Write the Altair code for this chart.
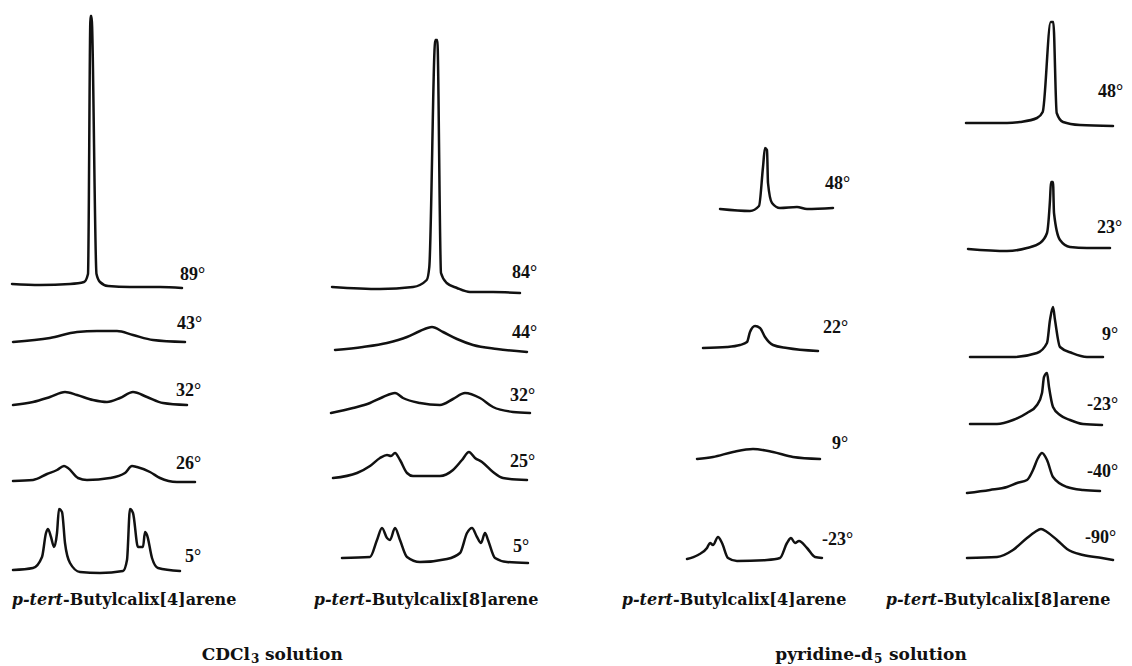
import altair as alt
import pandas as pd

# ---------------- spectra ----------------
# x: position along the trace (px from the column's left edge)
# h: signal height above the trace's baseline (px)
c1_89_x = [0, 28, 58, 72, 76, 78.5, 79.5, 84.5, 88, 96, 118, 148, 170]
c1_89_h = [1, 0, 1, 3, 11, 269, 269, 11, 3, -1, -2, -2, -3]
c1_43_x = [1, 38, 65, 85, 105, 121, 141, 173]
c1_43_h = [0, 4, 10, 11, 11, 7, 2, 0]
c1_32_x = [1, 21, 38, 53, 65, 81, 95, 108, 121, 135, 151, 175]
c1_32_h = [0, 3, 8, 13, 10, 5, 3, 7, 13, 8, 2, 0]
c1_26_x = [1, 21, 35, 45, 52, 56, 66, 75, 98, 113, 120, 125, 138, 148, 165, 183]
c1_26_h = [0, 1, 7, 11, 15, 13, 3, 1, 3, 8, 15, 14, 9, 3, -1, -1]
c1_5_x = [1, 21, 30, 34, 36, 39, 42, 45, 47, 50, 53, 58, 68, 88, 111, 115, 118, 121, 126, 131, 133, 135, 140, 146, 168]
c1_5_h = [0, 2, 13, 37, 41, 33, 23, 37, 61, 58, 27, 7, -2, -3, -1, 10, 61, 57, 23, 23, 38, 35, 12, 2, -1]

c2_84_x = [2, 50, 83, 96.7, 99.3, 105.3, 107.3, 111, 116.7, 127, 140, 163, 190]
c2_84_h = [1, -1, 1, 8, 21, 248, 248, 15, 5, 0, -4, -4, -5]
c2_44_x = [5, 33, 57, 77, 90, 102, 113, 127, 143, 167, 197]
c2_44_h = [0, 3, 7, 13, 19, 23, 18, 11, 5, 1, -2]
c2_32_x = [1, 23, 40, 53, 65, 73, 90, 110, 123, 135, 150, 163, 183, 200]
c2_32_h = [0, 5, 10, 16, 20, 15, 10, 8, 14, 20, 15, 6, 1, 0]
c2_25_x = [3, 27, 40, 50, 57, 61, 65, 70, 77, 83, 110, 123, 132, 139, 145, 152, 163, 173, 197]
c2_25_h = [0, 5, 12, 20, 23, 22, 25, 18, 5, 2, 2, 8, 18, 26, 20, 16, 6, 0, -2]
c2_5_x = [12, 40, 47, 52, 57, 60, 65, 70, 77, 90, 117, 130, 137, 142, 147, 151, 155, 158, 165, 177, 198]
c2_5_h = [2, 3, 20, 32, 22, 20, 32, 20, 3, -2, 1, 7, 27, 32, 23, 17, 27, 20, 2, -2, -3]

c3_48_x = [34, 64, 73, 77, 79, 81, 82, 86, 94, 111, 121, 147]
c3_48_h = [0, -2, 3, 42, 61, 59, 26, 6, 1, 2, 0, 1]
c3_22_x = [17, 41, 54, 61, 64, 69, 74, 79, 87, 101, 132]
c3_22_h = [0, 1, 3, 6, 16, 22, 20, 11, 3, 0, -3]
c3_9_x = [11, 27, 47, 67, 87, 107, 134]
c3_9_h = [0, 2, 7, 10, 7, 2, 0]
c3_m23_x = [1, 12, 21, 24, 27, 32, 36, 42, 51, 81, 94, 101, 105, 109, 113, 121, 129, 136]
c3_m23_h = [1, 5, 12, 17, 15, 23, 17, 2, -1, 0, 2, 17, 22, 17, 19, 12, 3, 2]

c4_48_x = [0, 41, 54, 71, 76.7, 84.7, 87.3, 90.7, 97, 114, 147]
c4_48_h = [1, 1, 2, 6, 12, 102, 102, 11, 2, -1, -2]
c4_23_x = [2, 41, 61, 74, 81, 84, 85, 87, 88, 94, 104, 121, 144]
c4_23_h = [1, -1, 2, 7, 17, 50, 68, 68, 37, 10, 3, 2, 2]
c4_9_x = [4, 47, 71, 81, 84, 87, 89, 94, 106, 121, 137]
c4_9_h = [0, 0, 4, 14, 37, 50, 37, 10, 4, 0, 0]
c4_m23_x = [4, 31, 47, 61, 71, 76, 78, 81, 83, 87, 94, 104, 117, 136]
c4_m23_h = [0, 0, 4, 11, 19, 31, 47, 51, 37, 17, 9, 4, 0, -1]
c4_m40_x = [1, 24, 41, 51, 61, 67, 72, 76, 81, 87, 101, 117, 134]
c4_m40_h = [-1, 2, 5, 9, 12, 22, 34, 39, 32, 15, 5, 2, 1]
c4_m90_x = [1, 31, 47, 61, 69, 75, 81, 91, 101, 117, 136, 147]
c4_m90_h = [0, 1, 8, 20, 26, 29, 26, 18, 9, 3, 0, -2]

# trace key, column, temperature label, x, h
SPECTRA = [
    ("c1_89", 0, "89°", c1_89_x, c1_89_h),
    ("c1_43", 0, "43°", c1_43_x, c1_43_h),
    ("c1_32", 0, "32°", c1_32_x, c1_32_h),
    ("c1_26", 0, "26°", c1_26_x, c1_26_h),
    ("c1_5", 0, "5°", c1_5_x, c1_5_h),
    ("c2_84", 1, "84°", c2_84_x, c2_84_h),
    ("c2_44", 1, "44°", c2_44_x, c2_44_h),
    ("c2_32", 1, "32°", c2_32_x, c2_32_h),
    ("c2_25", 1, "25°", c2_25_x, c2_25_h),
    ("c2_5", 1, "5°", c2_5_x, c2_5_h),
    ("c3_48", 2, "48°", c3_48_x, c3_48_h),
    ("c3_22", 2, "22°", c3_22_x, c3_22_h),
    ("c3_9", 2, "9°", c3_9_x, c3_9_h),
    ("c3_m23", 2, "-23°", c3_m23_x, c3_m23_h),
    ("c4_48", 3, "48°", c4_48_x, c4_48_h),
    ("c4_23", 3, "23°", c4_23_x, c4_23_h),
    ("c4_9", 3, "9°", c4_9_x, c4_9_h),
    ("c4_m23", 3, "-23°", c4_m23_x, c4_m23_h),
    ("c4_m40", 3, "-40°", c4_m40_x, c4_m40_h),
    ("c4_m90", 3, "-90°", c4_m90_x, c4_m90_h),
]

COMPOUNDS = ["-Butylcalix[4]arene", "-Butylcalix[8]arene", "-Butylcalix[4]arene", "-Butylcalix[8]arene"]
PREFIX = "p-tert"

# ---------------- layout (page pixels) ----------------
COLUMN_X0 = [12, 330, 686, 966]
BASELINE = {
    "c1_89": 285, "c1_43": 342, "c1_32": 405, "c1_26": 481, "c1_5": 570,
    "c2_84": 288, "c2_44": 350, "c2_32": 413, "c2_25": 478, "c2_5": 560,
    "c3_48": 209, "c3_22": 348, "c3_9": 459, "c3_m23": 560,
    "c4_48": 124, "c4_23": 250, "c4_9": 357, "c4_m23": 424, "c4_m40": 492, "c4_m90": 558,
}
LABEL_POS = {
    "c1_89": (180, 275), "c1_43": (177, 324), "c1_32": (176, 391), "c1_26": (176, 464), "c1_5": (185, 557),
    "c2_84": (512, 273), "c2_44": (512, 333), "c2_32": (510, 396), "c2_25": (510, 462), "c2_5": (513, 547),
    "c3_48": (825, 184), "c3_22": (823, 328), "c3_9": (832, 444), "c3_m23": (822, 540),
    "c4_48": (1098, 92), "c4_23": (1097, 228), "c4_9": (1102, 335), "c4_m23": (1087, 405),
    "c4_m40": (1087, 472), "c4_m90": (1085, 538),
}
COMPOUND_SPLIT_X = [63, 365, 673, 937]
COMPOUND_Y = 600

W, H = 1132, 666

rows = []
for key, col, temp, xs, hs in SPECTRA:
    for i, (x, h) in enumerate(zip(xs, hs)):
        rows.append({"trace": key, "i": i, "px": COLUMN_X0[col] + x, "py": BASELINE[key] - h})
df = pd.DataFrame(rows)

lab = pd.DataFrame([
    {"px": LABEL_POS[k][0], "py": LABEL_POS[k][1], "text": t} for k, c, t, _, _ in SPECTRA
])
pre = pd.DataFrame([{"px": COMPOUND_SPLIT_X[c], "py": COMPOUND_Y, "text": PREFIX} for c in range(4)])
rest = pd.DataFrame([{"px": COMPOUND_SPLIT_X[c], "py": COMPOUND_Y, "text": COMPOUNDS[c]} for c in range(4)])

title_main = pd.DataFrame([
    {"px": 250, "py": 655, "text": "CDCl", "align": "right"},
    {"px": 265, "py": 655, "text": "solution", "align": "left"},
    {"px": 873, "py": 655, "text": "pyridine-d", "align": "right"},
    {"px": 889, "py": 655, "text": "solution", "align": "left"},
])
title_sub = pd.DataFrame([
    {"px": 251, "py": 659, "text": "3"},
    {"px": 874, "py": 659, "text": "5"},
])

xs = alt.Scale(domain=[0, W])
ys = alt.Scale(domain=[0, H], reverse=True)
X = alt.X("px:Q", scale=xs, axis=None)
Y = alt.Y("py:Q", scale=ys, axis=None)

lines = alt.Chart(df).mark_line(color="#111111", strokeWidth=2.5, interpolate="monotone",
                                strokeCap="round", strokeJoin="round").encode(
    x=X, y=Y, detail="trace:N", order="i:Q")

temps = alt.Chart(lab).mark_text(font="Liberation Serif", fontWeight="bold", fontSize=18,
                                 align="left", baseline="middle", color="#111111").encode(
    x=X, y=Y, text="text:N")

pre_t = alt.Chart(pre).mark_text(font="DejaVu Serif", fontWeight="bold", fontStyle="italic",
                                 fontSize=16, align="right", baseline="middle", color="#111111").encode(
    x=X, y=Y, text="text:N")
rest_t = alt.Chart(rest).mark_text(font="DejaVu Serif", fontWeight="bold", fontSize=16,
                                   align="left", baseline="middle", color="#111111").encode(
    x=X, y=Y, text="text:N")

tm_r = alt.Chart(title_main[title_main["align"] == "right"]).mark_text(
    font="DejaVu Serif", fontWeight="bold", fontSize=17, align="right", baseline="middle",
    color="#111111").encode(x=X, y=Y, text="text:N")
tm_l = alt.Chart(title_main[title_main["align"] == "left"]).mark_text(
    font="DejaVu Serif", fontWeight="bold", fontSize=17, align="left", baseline="middle",
    color="#111111").encode(x=X, y=Y, text="text:N")
ts = alt.Chart(title_sub).mark_text(
    font="DejaVu Serif", fontWeight="bold", fontSize=12, align="left", baseline="middle",
    color="#111111").encode(x=X, y=Y, text="text:N")

chart = alt.layer(lines, temps, pre_t, rest_t, tm_r, tm_l, ts).properties(
    width=W, height=H, autosize=alt.AutoSizeParams(type="none"), padding=0,
    background="white"
).configure_view(stroke=None)

chart.save("out.html", embed_options={"renderer": "svg", "actions": False})
